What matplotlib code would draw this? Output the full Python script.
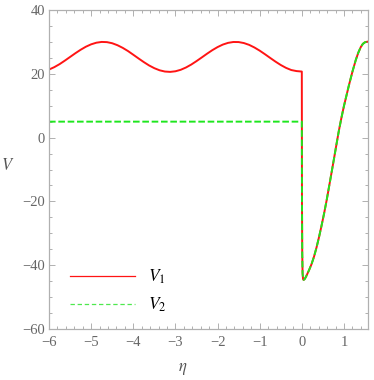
import matplotlib
matplotlib.use("Agg")
import matplotlib.pyplot as plt
from matplotlib.ticker import MultipleLocator

# ---- data ----
eta_left = [-6.0, -5.875, -5.75, -5.625, -5.5, -5.375, -5.25, -5.125, -5.0, -4.875,
            -4.75, -4.625, -4.5, -4.375, -4.25, -4.125, -4.0, -3.875, -3.75, -3.625,
            -3.5, -3.375, -3.25, -3.125, -3.0, -2.875, -2.75, -2.625, -2.5, -2.375,
            -2.25, -2.125, -2.0, -1.875, -1.75, -1.625, -1.5, -1.375, -1.25, -1.125,
            -1.0, -0.875, -0.75, -0.625, -0.5, -0.375, -0.25, -0.125, -0.04, 0.0]
v1_left = [21.33, 22.08, 23.02, 24.12, 25.28, 26.44, 27.53, 28.49, 29.24, 29.75,
           29.99, 29.93, 29.58, 28.96, 28.13, 27.13, 25.98, 24.81, 23.67, 22.62,
           21.76, 21.10, 20.71, 20.60, 20.79, 21.25, 21.97, 22.89, 23.97, 25.12,
           26.29, 27.40, 28.37, 29.16, 29.70, 29.97, 29.95, 29.64, 29.07, 28.25,
           27.26, 26.14, 24.97, 23.82, 22.76, 21.86, 21.18, 20.85, 20.75, 20.7]
eta_left2 = [-6.0, 0.0]
v2_left = [5.0, 5.0]

eta_right = [0.0, 0.004, 0.01, 0.018, 0.03, 0.045, 0.07, 0.1, 0.17, 0.23, 0.29,
             0.35, 0.41, 0.47, 0.53, 0.59, 0.645, 0.7, 0.76, 0.82, 0.88, 0.94,
             1.0, 1.06, 1.12, 1.2, 1.28, 1.34, 1.4, 1.45, 1.5, 1.5708]
v_right = [0.0, -20.0, -36.0, -42.5, -44.4, -44.6, -44.3, -43.6, -41.6, -39.7, -37.3,
           -34.4, -31.1, -27.5, -23.7, -19.6, -15.5, -11.4, -6.9, -2.3, 2.2, 6.2,
           9.9, 13.2, 16.5, 20.6, 24.3, 26.6, 28.4, 29.4, 29.9, 30.1]

xlim = (-6, 1.5708)
ylim = (-60, 40)
xticks = [-6, -5, -4, -3, -2, -1, 0, 1]
yticks = [-60, -40, -20, 0, 20, 40]

plt.rcParams['mathtext.fontset'] = 'stix'
plt.rcParams['font.family'] = ['Liberation Serif', 'DejaVu Serif']

fig = plt.figure(figsize=(3.74, 3.80), dpi=100)
ax = fig.add_axes([49/374, 1 - 329/380, 319/374, 319/380])

red = '#ff1414'
green = '#1ee61e'

x1 = eta_left + eta_right[1:]
y1 = v1_left + v_right[1:]
x2 = eta_left2 + eta_right[1:]
y2 = v2_left + v_right[1:]

ax.plot(x1, y1, color=red, lw=1.4, solid_joinstyle='round')
ln2, = ax.plot(x2, y2, color=green, lw=1.4)
ln2.set_dashes((3.4, 1.4))

# legend proxies
h1, = ax.plot([], [], color=red, lw=0.9)
h2, = ax.plot([], [], color='#4ee84e', lw=0.9)
h2.set_dashes((3.5, 2.2))
leg = ax.legend([h1, h2], [r'$V_1$', r'$V_2$'], loc='lower left',
                bbox_to_anchor=(0.016, -0.003), frameon=False, fontsize=12.5,
                handlelength=3.75, handletextpad=0.75, labelspacing=0.55)

ax.set_xlim(*xlim)
ax.set_ylim(*ylim)
ax.set_xticks(xticks)
ax.set_yticks(yticks)
ax.xaxis.set_minor_locator(MultipleLocator(0.2))
ax.yaxis.set_minor_locator(MultipleLocator(5))

for s in ax.spines.values():
    s.set_color('#b0b0b0')
    s.set_linewidth(0.9)
ax.tick_params(which='both', direction='in', top=True, right=True,
               color='#b0b0b0', width=0.7, labelcolor='#666666', labelsize=10.5)
ax.tick_params(which='major', length=4.0)
ax.tick_params(which='minor', length=2.2)
ax.tick_params(axis='x', which='major', pad=5)
ax.tick_params(axis='y', which='major', pad=3)

ax.set_xlabel(r'$\eta$', fontsize=12, color='#555555')
ax.xaxis.set_label_coords(0.42, -0.1)
ax.set_ylabel(r'$V$', fontsize=12, rotation=0, color='#555555')
ax.yaxis.set_label_coords(-0.13, 0.485)

fig.savefig('out.png', dpi=100)
